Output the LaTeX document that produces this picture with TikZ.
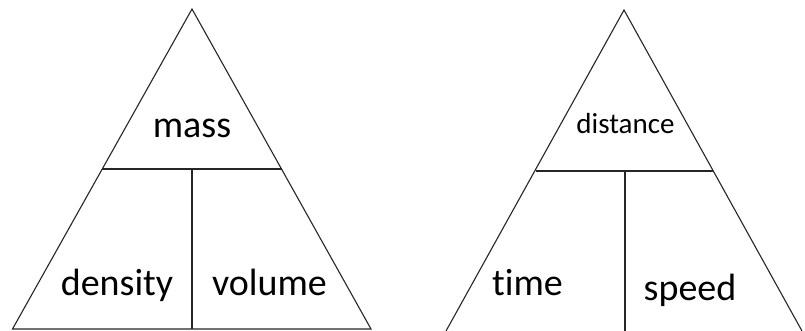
\documentclass[tikz,border=0pt]{standalone}
\usepackage{fontspec}
\setmainfont[Ligatures={NoCommon,NoRequired,NoContextual}]{Carlito}
\begin{document}
\begin{tikzpicture}[x=1pt,y=-1pt,
  edge/.style={line width=1.1pt,draw=black!85},
  big/.style={font=\fontsize{38}{40}\selectfont,anchor=base,inner sep=0pt},
  small/.style={font=\fontsize{29}{31}\selectfont,anchor=base,inner sep=0pt}]
\useasboundingbox[fill=white] (0,0) rectangle (805,330);
% left triangle
\coordinate (LA) at (192,9);
\coordinate (LL) at (12.5,329);
\coordinate (LR) at (371,329);
\coordinate (LH1) at (102.3,169);
\coordinate (LH2) at (281.5,169);
\coordinate (LV1) at (192,169);
\coordinate (LV2) at (192,329);
\draw[edge] (LA) -- (LL) -- (LR) -- cycle;
\draw[edge] (LH1) -- (LH2);
\draw[edge] (LV1) -- (LV2);
\node[big] (mass) at (192,137) {mass};
\node[big] (density) at (117,295) {density};
\node[big] (volume) at (269.5,295) {volume};
% right triangle
\coordinate (RA) at (624,10);
\coordinate (RL) at (446,331);
\coordinate (RR) at (802,331);
\coordinate (RH1) at (535.5,171);
\coordinate (RH2) at (713,171);
\coordinate (RV1) at (625,171);
\coordinate (RV2) at (625,331);
\draw[edge] (RL) -- (RA) -- (RR);
\draw[edge] (RH1) -- (RH2);
\draw[edge] (RV1) -- (RV2);
\node[small] (distance) at (625.5,133) {distance};
\node[big] (time) at (527.5,295) {t\kern0pt ime};
\node[big] (speed) at (690,300) {speed};
\end{tikzpicture}
\end{document}
